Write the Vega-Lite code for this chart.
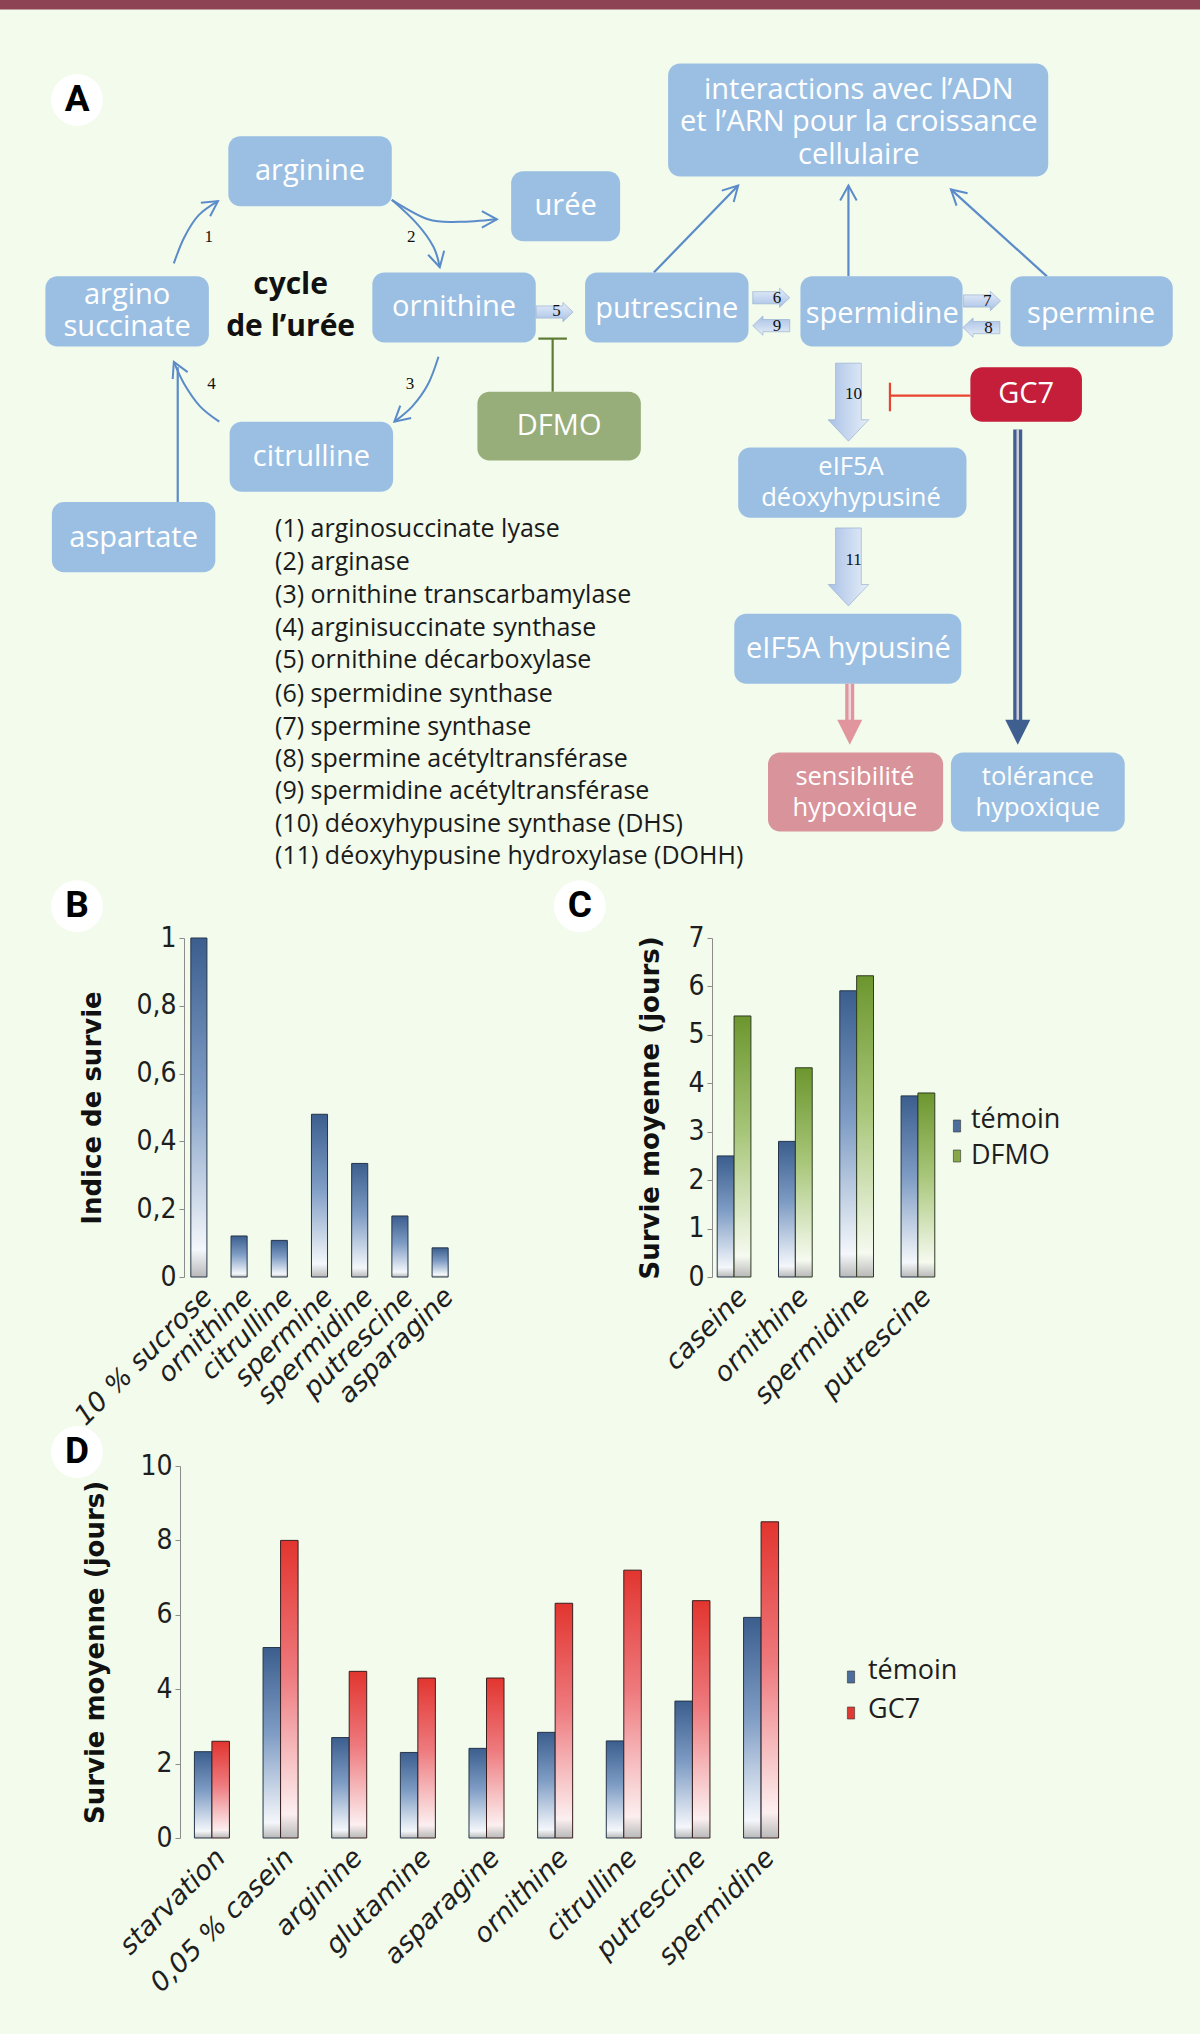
{
"$schema":"https://vega.github.io/schema/vega-lite/v6.json",
"background":"#F2FBEC",
"padding":0,
"spacing":0,
"bounds":"flush",
"config":{
  "view":{"stroke":null},
  "axis":{"grid":false,"domainColor":"#8c8c8c","tickColor":"#8c8c8c","tickSize":5,"labelFont":"Liberation Sans Narrow, DejaVu Sans Condensed, Roboto","labelFontSize":28,"labelColor":"#1e1e1e","labelPadding":3,"titleFont":"DejaVu Sans","titleFontWeight":"bold","titleFontSize":26,"titleColor":"#111111"},
  "axisX":{"domain":false,"ticks":false,"labelFont":"DejaVu Sans","labelFontStyle":"italic","labelFontSize":27,"labelAngle":-45,"labelPadding":6,"labelLimit":400}
},
"datasets":{
  "topbar":[{"x":0,"x2":925,"y":0,"y2":7.3}],
  "boxes":[
    {"name":"arginine","x":176,"x2":302,"y":105,"y2":159,"kind":"métabolite"},
    {"name":"urée","x":394,"x2":478,"y":132,"y2":186,"kind":"métabolite"},
    {"name":"argino succinate","x":35,"x2":161,"y":213,"y2":267,"kind":"métabolite"},
    {"name":"ornithine","x":287,"x2":413,"y":210,"y2":264,"kind":"métabolite"},
    {"name":"citrulline","x":177,"x2":303,"y":325,"y2":379,"kind":"métabolite"},
    {"name":"aspartate","x":40,"x2":166,"y":387,"y2":441,"kind":"métabolite"},
    {"name":"DFMO","x":368,"x2":494,"y":302,"y2":355,"kind":"DFMO"},
    {"name":"putrescine","x":451,"x2":577,"y":210,"y2":264,"kind":"métabolite"},
    {"name":"spermidine","x":617,"x2":742,"y":213,"y2":267,"kind":"métabolite"},
    {"name":"spermine","x":779,"x2":904,"y":213,"y2":267,"kind":"métabolite"},
    {"name":"interactions","x":515,"x2":808,"y":49,"y2":136,"kind":"métabolite"},
    {"name":"GC7","x":748,"x2":834,"y":283,"y2":325,"kind":"GC7"},
    {"name":"eIF5A déoxyhypusiné","x":569,"x2":745,"y":345,"y2":399,"kind":"métabolite"},
    {"name":"eIF5A hypusiné","x":566,"x2":741,"y":473,"y2":527,"kind":"métabolite"},
    {"name":"sensibilité hypoxique","x":592,"x2":727,"y":580,"y2":641,"kind":"sensibilité"},
    {"name":"tolérance hypoxique","x":733,"x2":867,"y":580,"y2":641,"kind":"métabolite"}
  ],
  "boxtext":[
    {"t":"arginine","x":239,"y":132},
    {"t":"urée","x":436,"y":159},
    {"t":"ornithine","x":350,"y":237},
    {"t":"citrulline","x":240,"y":352},
    {"t":"aspartate","x":103,"y":415},
    {"t":"DFMO","x":431,"y":328},
    {"t":"putrescine","x":514,"y":238},
    {"t":"spermidine","x":680,"y":242},
    {"t":"spermine","x":841,"y":242},
    {"t":"GC7","x":791,"y":304},
    {"t":"eIF5A hypusiné","x":654,"y":500}
  ],
  "boxtext2":[
    {"t":["argino","succinate"],"x":98,"y":227},
    {"t":["interactions avec l’ADN","et l’ARN pour la croissance","cellulaire"],"x":662,"y":69}
  ],
  "boxtext3":[
    {"t":["eIF5A","déoxyhypusiné"],"x":656,"y":360},
    {"t":["sensibilité","hypoxique"],"x":659,"y":598.7},
    {"t":["tolérance","hypoxique"],"x":800,"y":598.7}
  ],
  "cycle":[
    {"t":["cycle","de l’urée"],"x":224,"y":220}
  ],
  "notes":[
    {"t":"(1) arginosuccinate lyase","x":212,"y":408},
    {"t":"(2) arginase","x":212,"y":433},
    {"t":"(3) ornithine transcarbamylase","x":212,"y":459},
    {"t":"(4) arginisuccinate synthase","x":212,"y":484},
    {"t":"(5) ornithine décarboxylase","x":212,"y":509},
    {"t":"(6) spermidine synthase","x":212,"y":535},
    {"t":"(7) spermine synthase","x":212,"y":560},
    {"t":"(8) spermine acétyltransférase","x":212,"y":585},
    {"t":"(9) spermidine acétyltransférase","x":212,"y":610},
    {"t":"(10) déoxyhypusine synthase (DHS)","x":212,"y":635},
    {"t":"(11) déoxyhypusine hydroxylase (DOHH)","x":212,"y":660}
  ],
  "nums":[
    {"t":"1","x":161,"y":183},
    {"t":"2","x":317,"y":183},
    {"t":"3","x":316,"y":296},
    {"t":"4","x":163,"y":296},
    {"t":"5","x":429,"y":240},
    {"t":"6","x":599,"y":230},
    {"t":"9","x":599,"y":251},
    {"t":"7","x":761,"y":232},
    {"t":"8","x":762,"y":253},
    {"t":"10","x":658,"y":304},
    {"t":"11","x":658,"y":432}
  ],
  "curves":[
    {"c":"1","i":0,"x":134,"y":203},{"c":"1","i":1,"x":142,"y":183},{"c":"1","i":2,"x":153,"y":166},{"c":"1","i":3,"x":168,"y":155},
    {"c":"2","i":0,"x":302,"y":154},{"c":"2","i":1,"x":321,"y":172},{"c":"2","i":2,"x":334,"y":190},{"c":"2","i":3,"x":339,"y":206},
    {"c":"u","i":0,"x":302,"y":154},{"c":"u","i":1,"x":330,"y":169},{"c":"u","i":2,"x":354,"y":171},{"c":"u","i":3,"x":383,"y":169},
    {"c":"3","i":0,"x":338,"y":275},{"c":"3","i":1,"x":330,"y":296},{"c":"3","i":2,"x":318,"y":313},{"c":"3","i":3,"x":304,"y":325},
    {"c":"4","i":0,"x":169,"y":325},{"c":"4","i":1,"x":154,"y":313},{"c":"4","i":2,"x":142,"y":296},{"c":"4","i":3,"x":134,"y":279}
  ],
  "lines":[
    {"x":137,"y":387,"x2":137,"y2":283,"kind":"flèche"},
    {"x":504,"y":210,"x2":569,"y2":143,"kind":"flèche"},
    {"x":654,"y":213,"x2":654,"y2":143,"kind":"flèche"},
    {"x":807,"y":213,"x2":733,"y2":146,"kind":"flèche"},
    {"x":426,"y":302,"x2":426,"y2":261,"kind":"DFMO"},
    {"x":415,"y":261,"x2":437,"y2":261,"kind":"DFMO"},
    {"x":748,"y":305,"x2":686,"y2":305,"kind":"GC7"},
    {"x":686,"y":295,"x2":686,"y2":317,"kind":"GC7"}
  ],
  "heads":[
    {"x":168,"y":155,"a":-34},
    {"x":339,"y":206,"a":76},
    {"x":383,"y":169,"a":0},
    {"x":304,"y":325,"a":139},
    {"x":134,"y":279,"a":-115},
    {"x":569,"y":143,"a":-46},
    {"x":654,"y":143,"a":-90},
    {"x":733,"y":146,"a":-138}
  ],
  "hblocks":[
    {"x":427.5,"y":240.5,"a":-90},
    {"x":594.5,"y":229.5,"a":-90},
    {"x":594.5,"y":251,"a":90},
    {"x":757,"y":232,"a":-90},
    {"x":756.5,"y":252.5,"a":90}
  ],
  "vblocks":[
    {"x":654,"y":310,"a":0},
    {"x":654,"y":437,"a":0}
  ],
  "bands":[
    {"x":655,"y":527,"x2":655,"y2":557,"kind":"sensibilité"},
    {"x":784.5,"y":331,"x2":784.5,"y2":557,"kind":"tolérance"}
  ],
  "tris":[
    {"x":655,"y":574,"kind":"sensibilité"},
    {"x":784.5,"y":574,"kind":"tolérance"}
  ],
  "letters":[
    {"t":"A","x":59.4,"y":77},
    {"t":"B","x":59.4,"y":698.5},
    {"t":"C","x":447,"y":698.5}
  ],
  "letterD":[{"t":"D","x":59.4,"y":135}],
  "legendC":[
    {"group":"témoin","sx":957,"sy":188,"tx":971,"ty":182},
    {"group":"DFMO","sx":957,"sy":218,"tx":971,"ty":218}
  ],
  "legendD":[
    {"group":"témoin","sx":851,"sy":211,"tx":868,"ty":205},
    {"group":"GC7","sx":851,"sy":247,"tx":868,"ty":244}
  ],
  "b":[
    {"food":"10 % sucrose","index":1.0},
    {"food":"ornithine","index":0.121},
    {"food":"citrulline","index":0.108},
    {"food":"spermine","index":0.48},
    {"food":"spermidine","index":0.335},
    {"food":"putrescine","index":0.18},
    {"food":"asparagine","index":0.086}
  ],
  "c":[
    {"diet":"caseine","group":"témoin","days":2.5},
    {"diet":"caseine","group":"DFMO","days":5.39},
    {"diet":"ornithine","group":"témoin","days":2.8},
    {"diet":"ornithine","group":"DFMO","days":4.32},
    {"diet":"spermidine","group":"témoin","days":5.91},
    {"diet":"spermidine","group":"DFMO","days":6.22},
    {"diet":"putrescine","group":"témoin","days":3.74},
    {"diet":"putrescine","group":"DFMO","days":3.8}
  ],
  "d":[
    {"diet":"starvation","group":"témoin","days":2.32},
    {"diet":"starvation","group":"GC7","days":2.6},
    {"diet":"0,05 % casein","group":"témoin","days":5.12},
    {"diet":"0,05 % casein","group":"GC7","days":8.0},
    {"diet":"arginine","group":"témoin","days":2.7},
    {"diet":"arginine","group":"GC7","days":4.48},
    {"diet":"glutamine","group":"témoin","days":2.3},
    {"diet":"glutamine","group":"GC7","days":4.3},
    {"diet":"asparagine","group":"témoin","days":2.41},
    {"diet":"asparagine","group":"GC7","days":4.3},
    {"diet":"ornithine","group":"témoin","days":2.84},
    {"diet":"ornithine","group":"GC7","days":6.31},
    {"diet":"citrulline","group":"témoin","days":2.61},
    {"diet":"citrulline","group":"GC7","days":7.2},
    {"diet":"putrescine","group":"témoin","days":3.68},
    {"diet":"putrescine","group":"GC7","days":6.38},
    {"diet":"spermidine","group":"témoin","days":5.93},
    {"diet":"spermidine","group":"GC7","days":8.5}
  ]
},
"vconcat":[
  {
    "width":1200,"height":938,
    "encoding":{
      "x":{"field":"x","type":"quantitative","scale":{"domain":[0,925],"nice":false,"zero":false},"axis":null},
      "y":{"field":"y","type":"quantitative","scale":{"domain":[0,723],"nice":false,"zero":false,"reverse":true},"axis":null}
    },
    "layer":[
      {"data":{"name":"topbar"},"mark":{"type":"rect","color":"#8E4354"},"encoding":{"x2":{"field":"x2"},"y2":{"field":"y2"}}},
      {"data":{"name":"curves"},"mark":{"type":"line","interpolate":"cardinal","color":"#5B8BC9","strokeWidth":2},"encoding":{"detail":{"field":"c","type":"nominal"},"order":{"field":"i","type":"quantitative"}}},
      {"data":{"name":"lines"},"mark":{"type":"rule","strokeWidth":2.2},"encoding":{"x2":{"field":"x2"},"y2":{"field":"y2"},"color":{"field":"kind","type":"nominal","scale":{"domain":["flèche","DFMO","GC7"],"range":["#5B8BC9","#5E7B33","#E8432E"]},"legend":null}}},
      {"data":{"name":"heads"},"mark":{"type":"point","shape":"M-1,-0.55L0,0L-1,0.55","filled":false,"color":"#5B8BC9","strokeWidth":2,"size":900,"opacity":1},"encoding":{"angle":{"field":"a","type":"quantitative","scale":null}}},
      {"data":{"name":"boxes"},"mark":{"type":"rect","cornerRadius":12},"encoding":{"x2":{"field":"x2"},"y2":{"field":"y2"},"fill":{"field":"kind","type":"nominal","scale":{"domain":["métabolite","DFMO","GC7","sensibilité"],"range":["#9BBFE3","#98AE7A","#C41E3A","#D9939A"]},"legend":null}}},
      {"data":{"name":"boxtext"},"mark":{"type":"text","font":"Open Sans","fontSize":29,"color":"#ffffff","align":"center","baseline":"middle"},"encoding":{"text":{"field":"t","type":"nominal"}}},
      {"data":{"name":"boxtext2"},"mark":{"type":"text","font":"Open Sans","fontSize":29,"lineHeight":32.5,"color":"#ffffff","align":"center","baseline":"middle"},"encoding":{"text":{"field":"t","type":"nominal"}}},
      {"data":{"name":"boxtext3"},"mark":{"type":"text","font":"Open Sans","fontSize":25.5,"lineHeight":31,"color":"#ffffff","align":"center","baseline":"middle"},"encoding":{"text":{"field":"t","type":"nominal"}}},
      {"data":{"name":"cycle"},"mark":{"type":"text","font":"Open Sans","fontWeight":"bold","fontSize":30,"lineHeight":42,"color":"#111111","align":"center","baseline":"middle"},"encoding":{"text":{"field":"t","type":"nominal"}}},
      {"data":{"name":"notes"},"mark":{"type":"text","font":"Open Sans","fontSize":25,"color":"#1a1a1a","align":"left","baseline":"middle"},"encoding":{"text":{"field":"t","type":"nominal"}}},
      {"data":{"name":"bands"},"transform":[{"filter":"datum.kind === 'sensibilité'"}],"mark":{"type":"rule","strokeWidth":9,"color":"#E0969C"},"encoding":{"x2":{"field":"x2"},"y2":{"field":"y2"}}},
      {"data":{"name":"bands"},"transform":[{"filter":"datum.kind === 'tolérance'"}],"mark":{"type":"rule","strokeWidth":9,"color":"#3E5F8F"},"encoding":{"x2":{"field":"x2"},"y2":{"field":"y2"}}},
      {"data":{"name":"bands"},"mark":{"type":"rule","strokeWidth":2.5,"color":"#F3E6EC","opacity":0.8},"encoding":{"x2":{"field":"x2"},"y2":{"field":"y2"}}},
      {"data":{"name":"tris"},"transform":[{"filter":"datum.kind === 'sensibilité'"}],"mark":{"type":"point","shape":"M-1,-2L1,-2L0,0Z","filled":true,"size":625,"opacity":1,"color":"#E0969C"}},
      {"data":{"name":"tris"},"transform":[{"filter":"datum.kind === 'tolérance'"}],"mark":{"type":"point","shape":"M-1,-2L1,-2L0,0Z","filled":true,"size":625,"opacity":1,"color":"#3E5F8F"}},
      {"data":{"name":"hblocks"},"mark":{"type":"point","shape":"M-0.33,-1L0.33,-1L0.33,0.45L0.52,0.45L0,1L-0.52,0.45L-0.33,0.45Z","filled":true,"fill":{"gradient":"linear","x1":0,"y1":0,"x2":1,"y2":0,"stops":[{"offset":0,"color":"#A9C1E6"},{"offset":1,"color":"#E6EEF9"}]},"stroke":"#8FA8CC","strokeWidth":0.6,"size":1369,"opacity":1},"encoding":{"angle":{"field":"a","type":"quantitative","scale":null}}},
      {"data":{"name":"vblocks"},"mark":{"type":"point","shape":"M-0.33,-1L0.33,-1L0.33,0.45L0.52,0.45L0,1L-0.52,0.45L-0.33,0.45Z","filled":true,"fill":{"gradient":"linear","x1":0,"y1":0,"x2":1,"y2":0,"stops":[{"offset":0,"color":"#A9C1E6"},{"offset":1,"color":"#E6EEF9"}]},"stroke":"#8FA8CC","strokeWidth":0.6,"size":6084,"opacity":1},"encoding":{"angle":{"field":"a","type":"quantitative","scale":null}}},
      {"data":{"name":"nums"},"mark":{"type":"text","font":"Liberation Serif","fontSize":17,"color":"#111111","align":"center","baseline":"middle"},"encoding":{"text":{"field":"t","type":"nominal"}}},
      {"data":{"name":"letters"},"mark":{"type":"point","shape":"circle","filled":true,"color":"#ffffff","size":2704,"opacity":1}},
      {"data":{"name":"letters"},"mark":{"type":"text","font":"Roboto","fontWeight":"bold","fontSize":37,"color":"#000000","align":"center","baseline":"middle"},"encoding":{"text":{"field":"t","type":"nominal"}}}
    ]
  },
  {
    "width":940,"height":339,
    "layer":[
      {
        "data":{"name":"b"},
        "mark":{"type":"bar","fill":{"gradient":"linear","x1":0,"y1":0,"x2":0,"y2":1,"stops":[{"offset":0,"color":"#3B5E8E"},{"offset":0.45,"color":"#7E9CC4"},{"offset":0.92,"color":"#F4F7FB"},{"offset":1,"color":"#B9B9B9"}]},"stroke":"#26354a","strokeWidth":1},
        "encoding":{
          "x":{"field":"food","type":"nominal","sort":null,"title":null,"scale":{"range":[184,455],"paddingInner":0.6,"paddingOuter":0.17},"axis":{"orient":"bottom"}},
          "y":{"field":"index","type":"quantitative","title":"Indice de survie","scale":{"domain":[0,1],"nice":false},"axis":{"orient":"left","offset":-184,"values":[0,0.2,0.4,0.6,0.8,1],"format":"~g","labelExpr":"replace(datum.label,'.',',')","titlePadding":30}}
        }
      },
      {
        "data":{"name":"c"},
        "encoding":{
          "x":{"field":"diet","type":"nominal","sort":null,"title":null,"scale":{"range":[712,940],"paddingInner":0.45,"paddingOuter":0.085},"axis":{"orient":"bottom"}},
          "xOffset":{"field":"group","type":"nominal","sort":["témoin","DFMO"],"scale":{"domain":["témoin","DFMO"],"paddingInner":0,"paddingOuter":0}},
          "y":{"field":"days","type":"quantitative","title":"Survie moyenne (jours)","scale":{"domain":[0,7],"nice":false},"axis":{"orient":"left","offset":-712,"values":[0,1,2,3,4,5,6,7],"titlePadding":24}}
        },
        "layer":[
          {"transform":[{"filter":"datum.group === 'témoin'"}],"mark":{"type":"bar","fill":{"gradient":"linear","x1":0,"y1":0,"x2":0,"y2":1,"stops":[{"offset":0,"color":"#3B5E8E"},{"offset":0.45,"color":"#7E9CC4"},{"offset":0.92,"color":"#F4F7FB"},{"offset":1,"color":"#B9B9B9"}]},"stroke":"#26354a","strokeWidth":1}},
          {"transform":[{"filter":"datum.group === 'DFMO'"}],"mark":{"type":"bar","fill":{"gradient":"linear","x1":0,"y1":0,"x2":0,"y2":1,"stops":[{"offset":0,"color":"#6C962E"},{"offset":0.45,"color":"#A8C679"},{"offset":0.92,"color":"#F6FAF0"},{"offset":1,"color":"#B9B9B9"}]},"stroke":"#2f3b22","strokeWidth":1}}
        ]
      },
      {
        "data":{"name":"legendC"},
        "encoding":{
          "x":{"field":"sx","type":"quantitative","scale":{"domain":[0,940],"nice":false,"zero":false},"axis":null},
          "y":{"field":"sy","type":"quantitative","scale":{"domain":[0,339],"nice":false,"zero":false,"reverse":true},"axis":null}
        },
        "layer":[
          {"transform":[{"filter":"datum.group === 'témoin'"}],"mark":{"type":"point","shape":"M-0.6,-1L0.6,-1L0.6,1L-0.6,1Z","filled":true,"size":144,"opacity":1,"color":"#4D6E9C","stroke":"#333333","strokeWidth":0.6}},
          {"transform":[{"filter":"datum.group === 'DFMO'"}],"mark":{"type":"point","shape":"M-0.6,-1L0.6,-1L0.6,1L-0.6,1Z","filled":true,"size":144,"opacity":1,"color":"#86A846","stroke":"#333333","strokeWidth":0.6}},
          {"mark":{"type":"text","font":"Open Sans","fontSize":27,"color":"#1e1e1e","align":"left","baseline":"middle"},
           "encoding":{"x":{"field":"tx","type":"quantitative"},"y":{"field":"ty","type":"quantitative"},"text":{"field":"group","type":"nominal"}}}
        ]
      }
    ],
    "resolve":{"scale":{"x":"independent","y":"independent","xOffset":"independent"},"axis":{"x":"independent","y":"independent"}}
  },
  {
    "width":1200,"height":189,
    "data":{"name":"letterD"},
    "encoding":{
      "x":{"field":"x","type":"quantitative","scale":{"domain":[0,925],"nice":false,"zero":false},"axis":null},
      "y":{"field":"y","type":"quantitative","scale":{"domain":[0,145.7],"nice":false,"zero":false,"reverse":true},"axis":null}
    },
    "layer":[
      {"mark":{"type":"point","shape":"circle","filled":true,"color":"#ffffff","size":2704,"opacity":1}},
      {"mark":{"type":"text","font":"Roboto","fontWeight":"bold","fontSize":37,"color":"#000000","align":"center","baseline":"middle"},"encoding":{"text":{"field":"t","type":"nominal"}}}
    ]
  },
  {
    "width":793,"height":372,
    "layer":[
      {
        "data":{"name":"d"},
        "encoding":{
          "x":{"field":"diet","type":"nominal","sort":null,"title":null,"scale":{"range":[180,793],"paddingInner":0.49,"paddingOuter":0.21},"axis":{"orient":"bottom"}},
          "xOffset":{"field":"group","type":"nominal","sort":["témoin","GC7"],"scale":{"domain":["témoin","GC7"],"paddingInner":0,"paddingOuter":0}},
          "y":{"field":"days","type":"quantitative","title":"Survie moyenne (jours)","scale":{"domain":[0,10],"nice":false},"axis":{"orient":"left","offset":-180,"values":[0,2,4,6,8,10],"titlePadding":31}}
        },
        "layer":[
          {"transform":[{"filter":"datum.group === 'témoin'"}],"mark":{"type":"bar","fill":{"gradient":"linear","x1":0,"y1":0,"x2":0,"y2":1,"stops":[{"offset":0,"color":"#3B5E8E"},{"offset":0.45,"color":"#7E9CC4"},{"offset":0.92,"color":"#F4F7FB"},{"offset":1,"color":"#B9B9B9"}]},"stroke":"#26354a","strokeWidth":1}},
          {"transform":[{"filter":"datum.group === 'GC7'"}],"mark":{"type":"bar","fill":{"gradient":"linear","x1":0,"y1":0,"x2":0,"y2":1,"stops":[{"offset":0,"color":"#E2352F"},{"offset":0.45,"color":"#EE7A7E"},{"offset":0.92,"color":"#FCEFF0"},{"offset":1,"color":"#B9B9B9"}]},"stroke":"#3a1f1f","strokeWidth":1}}
        ]
      },
      {
        "data":{"name":"legendD"},
        "encoding":{
          "x":{"field":"sx","type":"quantitative","scale":{"domain":[0,793],"nice":false,"zero":false},"axis":null},
          "y":{"field":"sy","type":"quantitative","scale":{"domain":[0,372],"nice":false,"zero":false,"reverse":true},"axis":null}
        },
        "layer":[
          {"transform":[{"filter":"datum.group === 'témoin'"}],"mark":{"type":"point","shape":"M-0.6,-1L0.6,-1L0.6,1L-0.6,1Z","filled":true,"size":144,"opacity":1,"color":"#4D6E9C","stroke":"#333333","strokeWidth":0.6}},
          {"transform":[{"filter":"datum.group === 'GC7'"}],"mark":{"type":"point","shape":"M-0.6,-1L0.6,-1L0.6,1L-0.6,1Z","filled":true,"size":144,"opacity":1,"color":"#E03A35","stroke":"#333333","strokeWidth":0.6}},
          {"mark":{"type":"text","font":"Open Sans","fontSize":27,"color":"#1e1e1e","align":"left","baseline":"middle"},
           "encoding":{"x":{"field":"tx","type":"quantitative"},"y":{"field":"ty","type":"quantitative"},"text":{"field":"group","type":"nominal"}}}
        ]
      }
    ],
    "resolve":{"scale":{"x":"independent","y":"independent","xOffset":"independent"},"axis":{"x":"independent","y":"independent"}}
  },
  {"width":1200,"height":196,"data":{"values":[]},"mark":"point","encoding":{}}
]
}
